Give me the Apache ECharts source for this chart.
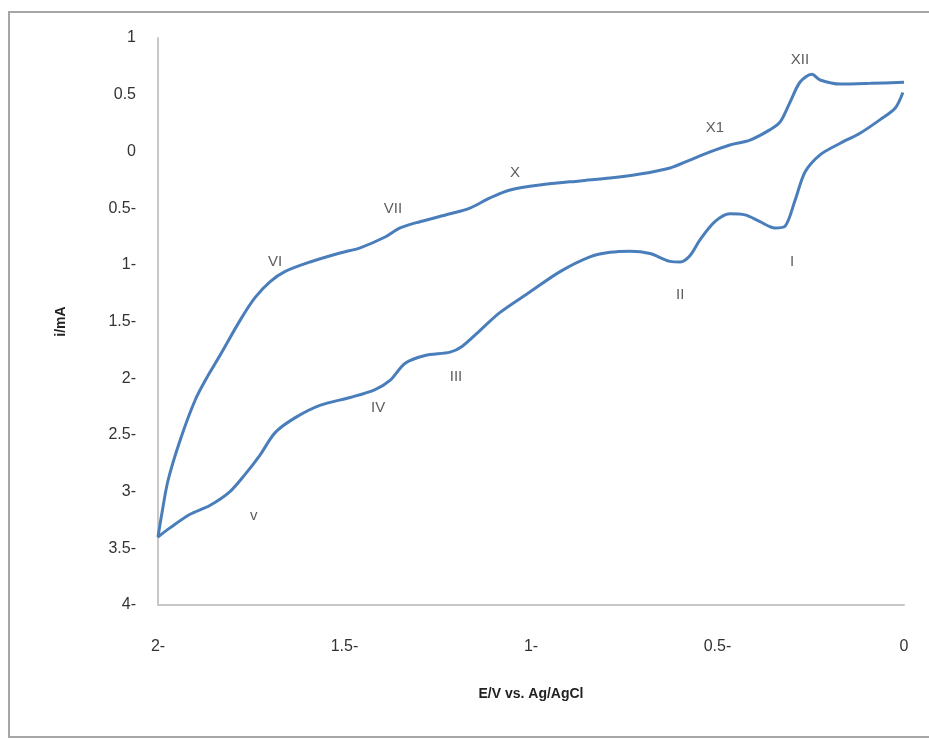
<!DOCTYPE html>
<html>
<head>
<meta charset="utf-8">
<script src="https://cdn.jsdelivr.net/npm/echarts@6/dist/echarts.min.js"></script>
<style>
html,body{margin:0;padding:0;background:#fff;}
#main{width:929px;height:740px;}
</style>
</head>
<body>
<div id="main"></div>
<script>
// 循环伏安曲线: 上支 (0 -> -2 V), 下支 (-2 -> 0 V)
var upperBranch = [
	[0.0, 0.61], [-0.09, 0.60], [-0.17, 0.594], [-0.225, 0.63], [-0.247, 0.68],
	[-0.279, 0.61], [-0.306, 0.43], [-0.332, 0.26], [-0.36, 0.19], [-0.413, 0.10],
	[-0.467, 0.056], [-0.52, -0.005], [-0.574, -0.076], [-0.627, -0.146], [-0.708, -0.20],
	[-0.788, -0.235], [-0.869, -0.26], [-0.976, -0.296], [-1.056, -0.34], [-1.11, -0.41],
	[-1.164, -0.50], [-1.217, -0.55], [-1.298, -0.62], [-1.351, -0.675], [-1.391, -0.755],
	[-1.458, -0.85], [-1.512, -0.896], [-1.592, -0.975], [-1.66, -1.06], [-1.70, -1.15],
	[-1.74, -1.29], [-1.78, -1.49], [-1.834, -1.80], [-1.87, -2.0], [-1.90, -2.19],
	[-1.94, -2.54], [-1.973, -2.90], [-1.99, -3.20], [-2.0, -3.40]
];
var lowerBranch = [
	[-1.968, -3.32], [-1.914, -3.20], [-1.86, -3.12], [-1.807, -3.0], [-1.767, -2.85],
	[-1.727, -2.68], [-1.686, -2.48], [-1.633, -2.35], [-1.566, -2.24], [-1.485, -2.17],
	[-1.418, -2.10], [-1.378, -2.02], [-1.338, -1.87], [-1.284, -1.80], [-1.217, -1.77],
	[-1.185, -1.72], [-1.137, -1.58], [-1.083, -1.42], [-1.003, -1.24], [-0.922, -1.06],
	[-0.842, -0.93], [-0.788, -0.89], [-0.735, -0.88], [-0.681, -0.90], [-0.627, -0.97],
	[-0.60, -0.975], [-0.574, -0.92], [-0.547, -0.78], [-0.507, -0.62], [-0.467, -0.55],
	[-0.426, -0.56], [-0.386, -0.62], [-0.346, -0.675], [-0.319, -0.66], [-0.292, -0.43],
	[-0.265, -0.18], [-0.225, -0.03], [-0.172, 0.07], [-0.118, 0.16], [-0.064, 0.28],
	[-0.024, 0.38], [-0.003, 0.52]
];
// 峰标注
var peakNames = ['XII', 'X1', 'X', 'VII', 'VI', 'I', 'II', 'III', 'IV', 'v'];
var peakPos = [
	[-0.279, 0.806], [-0.507, 0.206], [-1.043, -0.19], [-1.37, -0.508], [-1.686, -0.975],
	[-0.30, -0.975], [-0.60, -1.266], [-1.201, -1.99], [-1.41, -2.26], [-1.743, -3.21]
];
var xTitle = 'E/V vs. Ag/AgCl';
var yTitle = 'i/mA';

var fontFam = '"Liberation Sans", Arial, sans-serif';
// 负数写成 "2-" 的样子
function fmtTick(v) {
	if (v < 0) return Math.abs(v) + '-';
	return String(v);
}

var chart = echarts.init(document.getElementById('main'));
var labelData = [];
for (var i = 0; i < peakNames.length; ++i) {
	labelData.push({ value: peakPos[i], name: peakNames[i] });
}

var option = {
	backgroundColor: '#fff',
	animation: false,
	graphic: [{
		type: 'rect',
		shape: { x: 9, y: 12, width: 940, height: 725 },
		style: { fill: 'none', stroke: '#a6a6a6', lineWidth: 2 }
	}],
	grid: { left: 158, right: 25, top: 38, bottom: 135 },
	xAxis: {
		type: 'value', min: -2, max: 0, interval: 0.5, position: 'bottom',
		name: xTitle, nameLocation: 'middle', nameGap: 82,
		nameTextStyle: { fontFamily: fontFam, fontSize: 14, fontWeight: 'bold', color: '#222' },
		axisLine: { show: true, onZero: false, lineStyle: { color: '#c8c8c8', width: 2 } },
		axisTick: { show: false },
		splitLine: { show: false },
		axisLabel: { formatter: fmtTick, margin: 34, fontFamily: fontFam, fontSize: 16, color: '#333' }
	},
	yAxis: {
		type: 'value', min: -4, max: 1, interval: 0.5, position: 'left',
		name: yTitle, nameLocation: 'middle', nameGap: 90, nameRotate: 90,
		nameTextStyle: { fontFamily: fontFam, fontSize: 14, fontWeight: 'bold', color: '#222' },
		axisLine: { show: true, onZero: false, lineStyle: { color: '#c8c8c8', width: 2 } },
		axisTick: { show: false },
		splitLine: { show: false },
		axisLabel: { formatter: fmtTick, margin: 22, fontFamily: fontFam, fontSize: 16, color: '#333' }
	},
	series: [{
		type: 'line',
		data: upperBranch.concat(lowerBranch),
		smooth: 0.3,
		showSymbol: false,
		lineStyle: { color: '#4a7ebb', width: 3 }
	}, {
		type: 'scatter',
		data: labelData,
		symbolSize: 0,
		label: {
			show: true, position: 'inside',
			formatter: function (p) { return p.name; },
			fontFamily: fontFam, fontSize: 15, color: '#333'
		}
	}]
};
chart.setOption(option);
</script>
</body>
</html>
